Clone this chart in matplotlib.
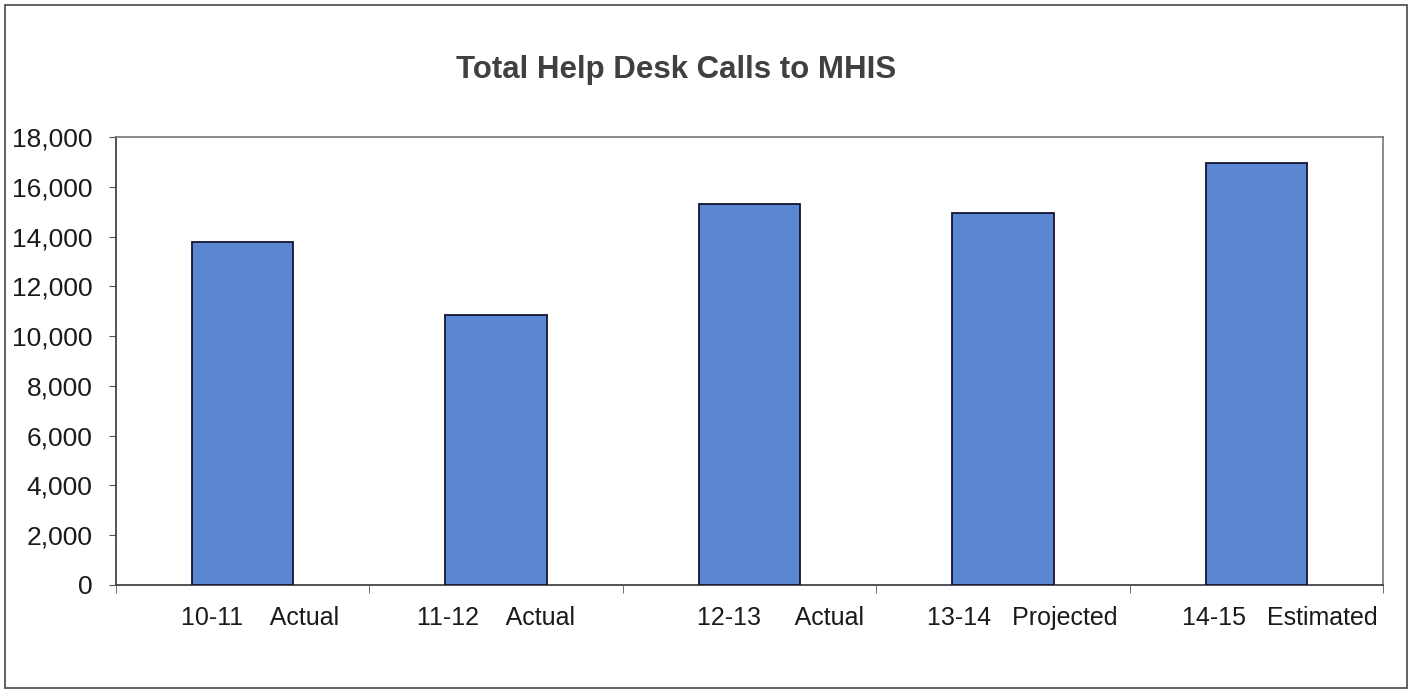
import matplotlib
matplotlib.use("Agg")
import matplotlib.pyplot as plt
import matplotlib.transforms as mtransforms
from matplotlib.ticker import FuncFormatter, MultipleLocator
from matplotlib.patches import Rectangle

categories = ["10-11    Actual", "11-12    Actual", "12-13     Actual", "13-14   Projected", "14-15   Estimated"]
values = [13780, 10850, 15300, 14960, 16950]
title = "Total Help Desk Calls to MHIS"

# horizontal nudge of each category label (pixels), as laid out in the original
label_shift_px = [17, 0, 31, 19, 24]

plt.rcParams['font.family'] = ['Liberation Sans', 'DejaVu Sans']

fig = plt.figure(figsize=(14.14, 6.92), dpi=100)
ax = fig.add_axes([116/1414, 1 - 585/692, (1383-116)/1414, (585-137)/692])

x = list(range(len(values)))
ax.bar(x, values, width=0.4, color='#5B87D2', edgecolor='#141430', linewidth=1.3, zorder=3)

ax.set_xlim(-0.5, len(values) - 0.5)
ax.set_ylim(0, 18000)
ax.yaxis.set_major_locator(MultipleLocator(2000))
ax.yaxis.set_major_formatter(FuncFormatter(lambda v, p: f"{int(v):,}"))
ax.set_xticks(x)
ax.set_xticklabels(categories, fontsize=18, color='#1a1a1a')
ax.set_xticks([i - 0.5 for i in range(len(values) + 1)], minor=True)
ax.tick_params(axis='x', which='major', length=0, pad=15)
ax.tick_params(axis='x', which='minor', length=6, color='#555555', direction='out')
ax.tick_params(axis='y', labelsize=19, length=5, color='#555555', labelcolor='#1a1a1a', pad=12)

for lbl, sh in zip(ax.get_xticklabels(), label_shift_px):
    offset = mtransforms.ScaledTranslation(sh/100, 0, fig.dpi_scale_trans)
    lbl.set_transform(lbl.get_transform() + offset)

for s in ['left', 'bottom']:
    ax.spines[s].set_color('#444444')
    ax.spines[s].set_linewidth(1.3)
for s in ['top', 'right']:
    ax.spines[s].set_color('#777777')
    ax.spines[s].set_linewidth(1.2)

fig.text(676/1414, 1 - 70/692, title, ha='center', va='center', fontsize=22.5,
         fontweight='bold', color='#404040')

fig.patches.append(Rectangle((5/1414, 4/692), (1407-5)/1414, (687-4)/692,
                             transform=fig.transFigure, fill=False,
                             edgecolor='#555555', linewidth=1.3))

fig.savefig("out.png", dpi=100)
